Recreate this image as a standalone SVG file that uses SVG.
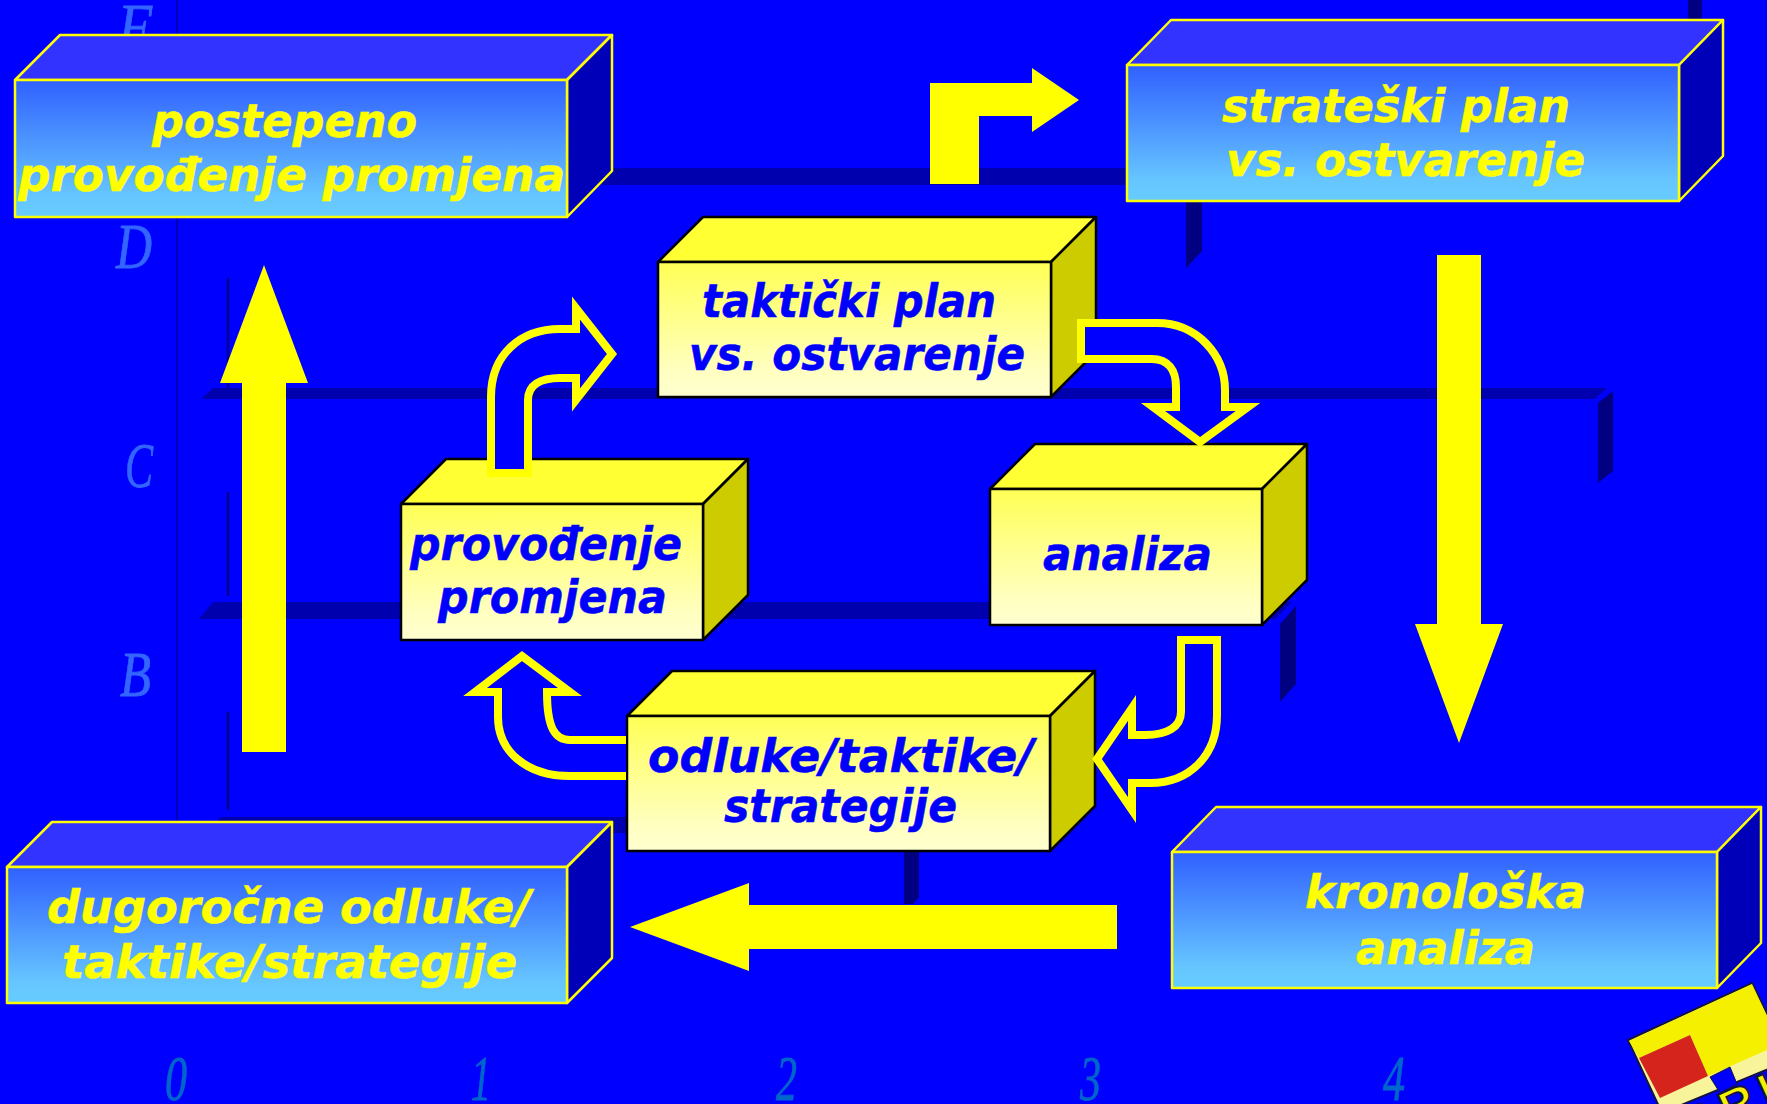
<svg xmlns="http://www.w3.org/2000/svg" width="1767" height="1104" viewBox="0 0 1767 1104">
<defs>
<linearGradient id="gy" x1="0" y1="0" x2="0" y2="1"><stop offset="0" stop-color="#FFFF55"/><stop offset="0.8" stop-color="#FFFFC0"/><stop offset="1" stop-color="#FFFFD0"/></linearGradient>
<linearGradient id="gb" x1="0" y1="0" x2="0" y2="1"><stop offset="0" stop-color="#3060FF"/><stop offset="0.85" stop-color="#66C6FF"/><stop offset="1" stop-color="#66CCFF"/></linearGradient>
</defs>
<style>
.bar{fill:#0000AE}
.post{fill:#000080}
.thin{stroke:#0000B4;stroke-width:2;fill:none}
.thind{stroke:#000090;stroke-width:2.5;fill:none}
.ax{font-family:"Liberation Serif",serif;font-style:italic;font-size:64px;fill:#3366FF;stroke:#3366FF;stroke-width:.8}
.dg{font-family:"Liberation Serif",serif;font-style:italic;font-size:64px;fill:#0066CC;stroke:#0066CC;stroke-width:.8}
.t{font-family:"DejaVu Sans",sans-serif;font-weight:bold;font-style:oblique;font-size:46px}
.ty{fill:#FFFF00;stroke:#FFFF00;stroke-width:.5}
.tb{fill:#0000FF;stroke:#0000FF;stroke-width:.5}
.yb .f{fill:url(#gy)}.yb .u{fill:#FFFF33}.yb .s{fill:#CCCC00}
.yb path,.yb rect{stroke:#000;stroke-width:2.5;stroke-linejoin:round}
.bb .f{fill:url(#gb)}.bb .u{fill:#3333FF}.bb .s{fill:#0000B8}
.bb path,.bb rect{stroke:#FFFF00;stroke-width:2.5;stroke-linejoin:round}
.so{fill:#FFFF00}
.ol{fill:#0000FF;stroke:#FFFF00;stroke-width:8;stroke-miterlimit:10}
</style>
<rect width="1767" height="1104" fill="#0000FF"/>
<g id="chart">
<path class="thin" d="M177 0V821"/>
<path class="thind" d="M228 278V389M228 492V596M228 712V810"/>
<rect class="bar" x="560" y="168" width="640" height="17"/>
<path class="bar" d="M201 399L213 388H1607L1595 399Z"/>
<path class="bar" d="M199 619L213 602H1292L1275 619Z"/>
<path class="bar" d="M205 833L221 817H640V833Z"/>
<path class="post" d="M1186 190H1202V251L1186 268Z"/>
<path class="post" d="M1598 403L1613 391V471L1598 483Z"/>
<path class="post" d="M1280 624L1296 606V684L1280 702Z"/>
<path class="post" d="M904 840H919V897L913 904H904Z"/>
<rect class="post" x="1688" y="0" width="14" height="25"/>
<text class="ax" x="118" y="48" textLength="34" lengthAdjust="spacingAndGlyphs">F</text>
<text class="ax" x="116" y="268" textLength="36" lengthAdjust="spacingAndGlyphs">D</text>
<text class="ax" x="125" y="487" textLength="28" lengthAdjust="spacingAndGlyphs">C</text>
<text class="ax" x="120" y="696" textLength="31" lengthAdjust="spacingAndGlyphs">B</text>
<text class="dg" x="165" y="1100" textLength="22" lengthAdjust="spacingAndGlyphs">0</text>
<text class="dg" x="471" y="1100" textLength="20" lengthAdjust="spacingAndGlyphs">1</text>
<text class="dg" x="776" y="1100" textLength="21" lengthAdjust="spacingAndGlyphs">2</text>
<text class="dg" x="1080" y="1100" textLength="21" lengthAdjust="spacingAndGlyphs">3</text>
<text class="dg" x="1383" y="1100" textLength="22" lengthAdjust="spacingAndGlyphs">4</text>
</g>
<g id="box-postepeno" class="bb">
<path class="u" d="M15 80L60 35H612L567 80Z"/><path class="s" d="M567 80L612 35V171L567 217Z"/><rect class="f" x="15" y="80" width="552" height="137"/>
<text class="t ty" x="152" y="137" textLength="265" lengthAdjust="spacingAndGlyphs">postepeno</text>
<text class="t ty" x="18" y="191" textLength="547" lengthAdjust="spacingAndGlyphs">provođenje promjena</text>
</g>
<g id="box-strateski" class="bb">
<path class="u" d="M1127 65L1171 20H1723L1679 65Z"/><path class="s" d="M1679 65L1723 20V156L1679 201Z"/><rect class="f" x="1127" y="65" width="552" height="136"/>
<text class="t ty" x="1222" y="122" textLength="348" lengthAdjust="spacingAndGlyphs">strateški plan</text>
<text class="t ty" x="1226" y="176" textLength="359" lengthAdjust="spacingAndGlyphs">vs. ostvarenje</text>
</g>
<g id="box-kronoloska" class="bb">
<path class="u" d="M1172 852L1216 807H1761L1717 852Z"/><path class="s" d="M1717 852L1761 807V943L1717 988Z"/><rect class="f" x="1172" y="852" width="545" height="136"/>
<text class="t ty" x="1305" y="908" textLength="281" lengthAdjust="spacingAndGlyphs">kronološka</text>
<text class="t ty" x="1356" y="964" textLength="179" lengthAdjust="spacingAndGlyphs">analiza</text>
</g>
<g id="box-dugorocne" class="bb">
<path class="u" d="M7 867L52 822H612L567 867Z"/><path class="s" d="M567 867L612 822V958L567 1003Z"/><rect class="f" x="7" y="867" width="560" height="136"/>
<text class="t ty" x="47" y="923" textLength="484" lengthAdjust="spacingAndGlyphs">dugoročne odluke/</text>
<text class="t ty" x="62" y="978" textLength="455" lengthAdjust="spacingAndGlyphs">taktike/strategije</text>
</g>
<g id="box-takticki" class="yb">
<path class="u" d="M658 262L703 217H1096L1051 262Z"/><path class="s" d="M1051 262L1096 217V352L1051 397Z"/><rect class="f" x="658" y="262" width="393" height="135"/>
<text class="t tb" x="702" y="317" textLength="294" lengthAdjust="spacingAndGlyphs">taktički plan</text>
<text class="t tb" x="689" y="370" textLength="336" lengthAdjust="spacingAndGlyphs">vs. ostvarenje</text>
</g>
<g id="box-provodenje" class="yb">
<path class="u" d="M401 504L446 459H748L703 504Z"/><path class="s" d="M703 504L748 459V595L703 640Z"/><rect class="f" x="401" y="504" width="302" height="136"/>
<text class="t tb" x="410" y="560" textLength="272" lengthAdjust="spacingAndGlyphs">provođenje</text>
<text class="t tb" x="438" y="613" textLength="229" lengthAdjust="spacingAndGlyphs">promjena</text>
</g>
<g id="box-analiza" class="yb">
<path class="u" d="M990 489L1035 444H1307L1262 489Z"/><path class="s" d="M1262 489L1307 444V580L1262 625Z"/><rect class="f" x="990" y="489" width="272" height="136"/>
<text class="t tb" x="1043" y="570" textLength="169" lengthAdjust="spacingAndGlyphs">analiza</text>
</g>
<g id="box-odluke" class="yb">
<path class="u" d="M627 716L672 671H1095L1050 716Z"/><path class="s" d="M1050 716L1095 671V806L1050 851Z"/><rect class="f" x="627" y="716" width="423" height="135"/>
<text class="t tb" x="648" y="772" textLength="386" lengthAdjust="spacingAndGlyphs">odluke/taktike/</text>
<text class="t tb" x="724" y="822" textLength="233" lengthAdjust="spacingAndGlyphs">strategije</text>
</g>
<g id="connectors">
<path class="so" d="M242 752V383H220L264 265L308 383H286V752Z"/>
<path class="so" d="M1437 255H1481V624H1503L1459 743L1415 624H1437Z"/>
<path class="so" d="M1117 905V949H749V971L630 927L749 883V905Z"/>
<path class="so" d="M930 184V83H1032V68L1079 100L1032 132V116H979V184Z"/>
<path class="ol" d="M491 473V397C491 355 520 329 560 329H576V308L612 354L576 400V378H560C540 378 528 385 528 400V473Z"/>
<path class="ol" d="M1081 323H1157C1197 323 1225 355 1225 390V407H1248L1200 442L1153 407H1176V387C1176 370 1168 359 1152 359H1081Z"/>
<path class="ol" d="M1181 640H1217V715C1217 755 1190 783 1150 783H1132V810L1097 759L1132 708V735H1145C1167 735 1181 727 1181 712Z"/>
<path class="ol" d="M626 740H570C555 740 547 728 547 692H570L522 656L475 692H498V717C498 750 525 776 570 776H626"/>
</g>
<g id="logo">
<path d="M1628 1040L1752 983L1790 1060L1662 1113Z" fill="#F8F49C" stroke="#14143C" stroke-width="2"/>
<path d="M1629 1041L1752 984L1767 1016V1050L1708 1076L1690 1035L1639 1058Z" fill="#F5F000"/>
<path d="M1639 1058L1690 1035L1708 1076L1660 1098Z" fill="#D4241C"/>
<path d="M1710 1077L1730 1067L1737 1084L1720 1093Z" fill="#0000FF" stroke="#14143C" stroke-width="1"/>
<text transform="translate(1690 1144) rotate(-24.7)" font-family="Liberation Sans, sans-serif" font-weight="bold" font-size="48" letter-spacing="8" fill="#F5F000" stroke="#14143C" stroke-width="2">BRI</text>
</g>
</svg>
